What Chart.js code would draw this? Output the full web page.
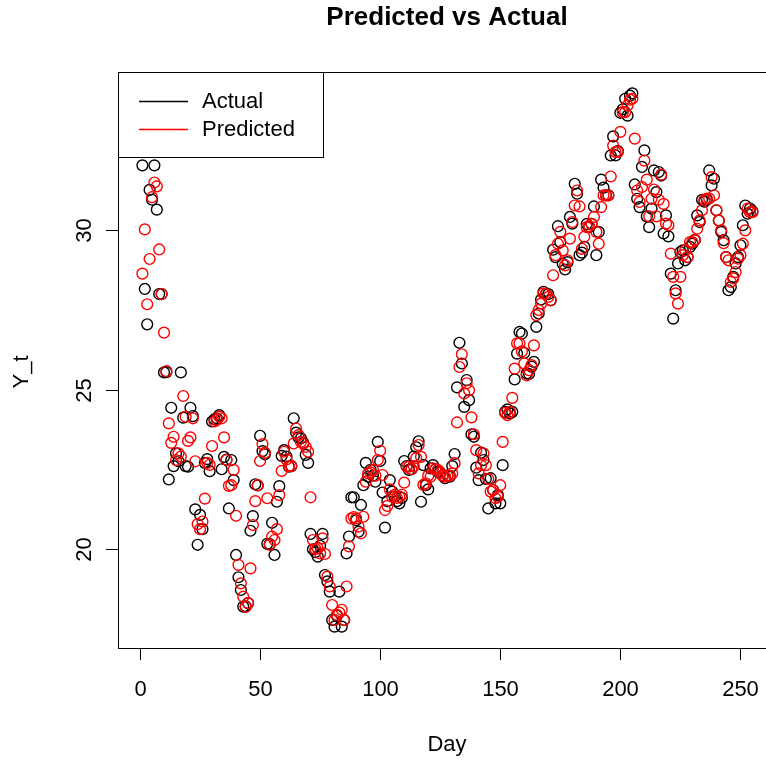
<!DOCTYPE html>
<html>
<head>
<meta charset="utf-8">
<script src="https://cdn.jsdelivr.net/npm/chart.js@4.4.1/dist/chart.umd.min.js"></script>
<style>
  html, body { margin: 0; padding: 0; background: #fff; }
  #wrap { width: 766px; height: 761px; }
</style>
</head>
<body>
<div id="wrap"><canvas id="chart" width="766" height="761"></canvas></div>
<script>
const actual = [
  32.04, 28.16, 27.05, 31.27, 30.96, 32.04, 30.65, 28.0, 28.0, 25.54,
  25.55, 22.18, 24.43, 22.6, 23.0, 22.75, 25.54, 24.12, 22.6, 22.58,
  24.43, 24.17, 21.24, 20.13, 21.07, 20.62, 22.7, 22.82, 22.44, 24.0,
  24.07, 24.1, 24.2, 22.5, 22.89, 22.8, 21.27, 22.79, 22.16, 19.81,
  19.11, 18.71, 18.19, 18.2, 18.3, 20.57, 21.03, 22.03, 21.99, 23.55,
  23.07, 22.97, 20.16, 20.15, 20.82, 19.81, 21.48, 21.97, 22.92, 23.1,
  22.9, 22.58, 22.6, 24.1, 23.65, 23.5, 23.47, 23.33, 22.95, 22.7,
  20.47, 19.99, 19.9, 19.76, 20.1, 20.47, 19.18, 18.98, 18.66, 17.77,
  17.56, 17.9, 18.66, 17.56, 17.77, 19.86, 20.39, 21.62, 21.62, 20.9,
  20.54, 21.38, 22.0, 22.7, 22.27, 22.48, 22.3, 22.11, 23.36, 22.76,
  21.77, 20.67, 21.5, 22.16, 21.8, 21.64, 21.5, 21.43, 21.6, 22.76,
  22.6, 22.48, 22.5, 22.9, 23.19, 23.38, 21.48, 22.63, 22.0, 21.87,
  22.53, 22.63, 22.5, 22.42, 22.4, 22.3, 22.22, 22.3, 22.27, 22.6,
  22.98, 25.07, 26.47, 25.82, 24.46, 25.3, 24.67, 23.6, 23.52, 22.55,
  22.16, 23.02, 22.79, 22.2, 21.27, 22.22, 21.85, 21.43, 21.69, 21.43,
  22.63, 24.3, 24.38, 24.25, 24.3, 25.32, 26.13, 26.81, 26.76, 26.15,
  25.51, 25.49, 25.72, 25.87, 26.97, 27.39, 27.83, 28.07, 28.0, 28.0,
  27.81, 29.39, 29.16, 30.13, 29.63, 28.95, 28.77, 29.0, 30.42, 30.21,
  31.46, 31.15, 29.22, 29.3, 29.48, 30.2, 30.1, 30.2, 30.75, 29.22,
  29.95, 31.59, 31.34, 31.1, 31.1, 32.35, 32.95, 32.35, 32.49, 33.69,
  33.8, 34.13, 33.6, 34.23, 34.3, 31.44, 30.99, 30.73, 31.99, 32.51,
  30.44, 30.1, 30.68, 31.88, 31.2, 31.83, 31.72, 29.9, 30.47, 29.81,
  28.64, 27.23, 28.12, 28.96, 29.32, 29.37, 29.06, 29.16, 29.48, 29.58,
  29.7, 30.47, 30.26, 30.96, 30.9, 30.96, 31.88, 31.41, 31.62, 30.63,
  30.31, 29.95, 29.69, 29.16, 28.12, 28.22, 28.54, 28.96, 29.16, 29.53,
  30.16, 30.78, 30.52, 30.68, 30.6
];

const predicted = [
  28.64, 30.03, 27.68, 29.1, 31.04, 31.5, 31.38, 29.4, 28.0, 26.79,
  25.58, 23.94, 23.33, 23.52, 22.79, 23.0, 22.9, 24.8, 24.15, 23.39,
  23.5, 24.1, 22.75, 20.78, 20.62, 20.86, 21.58, 22.7, 22.64, 23.23,
  24.0, 24.05, 24.15, 24.1, 23.5, 22.79, 21.98, 22.0, 22.48, 21.04,
  19.5, 18.92, 18.5, 18.18, 18.3, 19.39, 20.75, 21.5, 22.0, 22.76,
  23.29, 23.02, 21.59, 20.13, 20.39, 20.28, 20.62, 21.69, 22.45, 23.05,
  22.81, 22.6, 22.6, 23.31, 23.78, 23.57, 23.36, 23.3, 23.2, 23.05,
  21.62, 20.28, 20.0, 20.02, 19.86, 20.33, 19.84, 19.13, 18.82, 18.24,
  17.77, 17.93, 18.0, 18.09, 17.77, 18.82, 20.08, 20.96, 21.0, 20.96,
  20.7, 20.49, 21.01, 22.11, 22.37, 22.4, 22.48, 22.3, 22.79, 23.08,
  22.32, 21.22, 21.35, 21.87, 21.64, 21.7, 21.6, 21.64, 21.7, 22.08,
  22.58, 22.58, 22.5, 22.6, 22.85, 23.26, 22.89, 22.01, 22.06, 22.3,
  22.27, 22.53, 22.5, 22.48, 22.4, 22.3, 22.27, 22.3, 22.3, 22.37,
  22.69, 23.97, 25.71, 26.11, 24.88, 25.2, 24.98, 24.13, 23.6, 23.1,
  22.37, 22.63, 23.0, 22.63, 22.2, 21.8, 21.85, 21.59, 21.64, 22.0,
  23.36, 24.27, 24.2, 24.3, 24.74, 25.66, 26.45, 26.45, 26.2, 25.82,
  25.45, 25.61, 25.77, 26.39, 27.34, 27.5, 27.7, 28.02, 28.0, 27.91,
  27.8, 28.59, 29.22, 29.58, 29.95, 29.37, 28.9, 29.06, 29.74, 30.26,
  30.78, 31.25, 30.75, 29.42, 29.8, 30.1, 30.13, 30.2, 30.42, 29.95,
  29.58, 30.73, 31.1, 31.1, 31.1, 31.69, 32.66, 32.46, 32.46, 33.09,
  33.71, 33.71, 33.92, 34.1, 34.13, 32.88, 31.25, 30.89, 31.36, 32.19,
  31.59, 30.44, 30.99, 31.28, 30.44, 30.96, 31.75, 30.83, 30.21, 30.16,
  29.27, 28.54, 28.02, 27.7, 28.54, 29.22, 29.37, 29.16, 29.63, 29.63,
  29.69, 30.05, 30.31, 30.63, 30.96, 31.0, 31.0, 31.67, 31.1, 30.63,
  30.3, 30.0, 29.6, 29.16, 29.06, 28.38, 28.49, 28.69, 29.11, 29.22,
  29.58, 30.0, 30.68, 30.57, 30.57
];

// day index for each observation
const days = actual.map((_, i) => i + 1);

const xTicks = [0, 50, 100, 150, 200, 250];
const yTicks = [20, 25, 30];

const FONT = '"Liberation Sans", Arial, Helvetica, sans-serif';

// R base graphics look: box, outward ticks, rotated y labels, legend box
const baseAxes = {
  id: "baseAxes",
  afterDraw(chart) {
    const {ctx, chartArea: a, scales: {x, y}} = chart;
    ctx.save();
    ctx.strokeStyle = "#000";
    ctx.fillStyle = "#000";
    ctx.lineWidth = 1;

    // plot box (right side runs past the canvas edge, like the original)
    ctx.strokeRect(a.left + 0.5, a.top + 0.5, a.right + 20 - a.left, a.bottom - a.top);

    ctx.font = "22px " + FONT;
    ctx.textAlign = "center";
    ctx.textBaseline = "middle";
    xTicks.forEach(v => {
      const px = Math.round(x.getPixelForValue(v)) + 0.5;
      ctx.beginPath();
      ctx.moveTo(px, a.bottom);
      ctx.lineTo(px, a.bottom + 12);
      ctx.stroke();
      ctx.fillText(String(v), px, a.bottom + 42);
    });

    yTicks.forEach(v => {
      const py = Math.round(y.getPixelForValue(v)) + 0.5;
      ctx.beginPath();
      ctx.moveTo(a.left, py);
      ctx.lineTo(a.left - 12, py);
      ctx.stroke();
      ctx.save();
      ctx.translate(a.left - 33, py);
      ctx.rotate(-Math.PI / 2);
      ctx.fillText(String(v), 0, 0);
      ctx.restore();
    });

    // axis titles
    ctx.fillText("Day", 447, 745);
    ctx.save();
    ctx.translate(22, 372);
    ctx.rotate(-Math.PI / 2);
    ctx.fillText("Y_t", 0, 0);
    ctx.restore();

    // main title
    ctx.font = "bold 26px " + FONT;
    ctx.fillText("Predicted vs Actual", 447, 18);

    // legend
    ctx.strokeRect(a.left + 0.5, a.top + 0.5, 205, 85);
    ctx.font = "22px " + FONT;
    ctx.textAlign = "left";
    const items = [["Actual", "#000000", 101], ["Predicted", "#FF0000", 129]];
    items.forEach(([label, color, ly]) => {
      ctx.strokeStyle = color;
      ctx.lineWidth = 1.3;
      ctx.beginPath();
      ctx.moveTo(139, ly + 0.5);
      ctx.lineTo(188, ly + 0.5);
      ctx.stroke();
      ctx.fillStyle = "#000";
      ctx.fillText(label, 202, ly + 1);
    });
    ctx.restore();
  }
};

new Chart(document.getElementById("chart"), {
  type: "scatter",
  data: {
    datasets: [
      {
        label: "Actual",
        data: days.map((d, i) => ({x: d, y: actual[i]})),
        borderColor: "#000000",
        backgroundColor: "rgba(0,0,0,0)",
        pointRadius: 5.4,
        borderWidth: 1.4,
        order: 2,
      },
      {
        label: "Predicted",
        data: days.map((d, i) => ({x: d, y: predicted[i]})),
        borderColor: "#FF0000",
        backgroundColor: "rgba(0,0,0,0)",
        pointRadius: 5.4,
        borderWidth: 1.4,
        order: 1,
      },
    ],
  },
  options: {
    responsive: false,
    animation: false,
    layout: {autoPadding: false, padding: {left: 118, top: 72, right: 0, bottom: 113}},
    plugins: {
      legend: {display: false},
      title: {display: false},
      tooltip: {enabled: false},
    },
    scales: {
      x: {type: "linear", min: -9.16, max: 260.64, display: false},
      y: {type: "linear", min: 16.89, max: 34.97, display: false},
    },
  },
  plugins: [baseAxes],
});
</script>
</body>
</html>
